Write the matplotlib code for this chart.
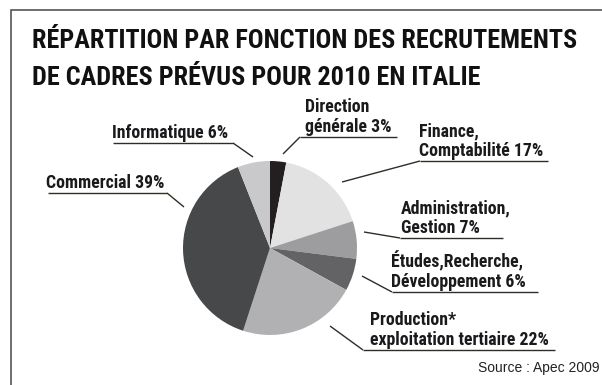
import matplotlib
matplotlib.use("Agg")
import matplotlib.pyplot as plt
from matplotlib import font_manager as fm

# Recruitment breakdown by function, 2010, Italy (share of planned hires, %)
categories = [
    "Direction\ngénérale",
    "Finance,\nComptabilité",
    "Administration,\nGestion",
    "Études,Recherche,\nDéveloppement",
    "Production*\nexploitation tertiaire",
    "Commercial",
    "Informatique",
]
values = [3, 17, 7, 6, 22, 39, 6]
colors = ["#231f20", "#e2e2e3", "#9d9d9f", "#636365", "#b1b1b3", "#47484a", "#c9c9cb"]

title = "RÉPARTITION PAR FONCTION DES RECRUTEMENTS\nDE CADRES PRÉVUS POUR 2010 EN ITALIE"
source = "Source : Apec 2009"

W, H = 602, 385


def pick_bold_narrow():
    """Return FontProperties for the narrowest bold sans face available."""
    wanted = ["Roboto Condensed", "Open Sans Condensed", "Liberation Sans Narrow",
              "Noto Sans Condensed", "DejaVu Sans Condensed"]
    entries = fm.fontManager.ttflist
    for name in wanted:
        for f in entries:
            if f.name == name and (f.weight in ("bold", 700) or
                                   str(f.weight).isdigit() and int(f.weight) >= 600):
                return fm.FontProperties(fname=f.fname)
    for f in entries:
        if (f.name in ("DejaVu Sans", "Roboto", "Open Sans", "Noto Sans")
                and "condensed" in str(f.stretch).lower()
                and (f.weight in ("bold", 700) or str(f.weight) == "700")):
            return fm.FontProperties(fname=f.fname)
    return fm.FontProperties(family="Roboto", weight="bold")


BOLD = pick_bold_narrow()
names = {f.name for f in fm.fontManager.ttflist}
REGULAR = "Liberation Sans" if "Liberation Sans" in names else "DejaVu Sans"

fig = plt.figure(figsize=(W / 100, H / 100), dpi=100)
ax = fig.add_axes([0, 0, 1, 1])


def Y(py):
    """Convert a top-down pixel row into axis y."""
    return H - py


# pie
center = (270, Y(248))
radius = 87
ax.pie(values, colors=colors, startangle=90, counterclock=False,
       center=center, radius=radius, frame=True,
       wedgeprops=dict(linewidth=0))
ax.set_xlim(0, W)
ax.set_ylim(0, H)
ax.set_aspect("equal")
ax.axis("off")

# frame (left and top rules)
ax.plot([10.5, 10.5, W], [Y(H), Y(9.5), Y(9.5)], color="#555555", lw=1.2,
        solid_capstyle="butt", solid_joinstyle="miter")

renderer = fig.canvas.get_renderer()


def fit_size(lines, target, base):
    """Font size at which the widest line spans `target` pixels."""
    widest = 0
    for s in lines:
        t = ax.text(0, 0, s, fontproperties=BOLD, fontsize=base)
        widest = max(widest, t.get_window_extent(renderer).width)
        t.remove()
    return base * target / widest


# title, two lines
title_lines = title.split("\n")
title_size = min(fit_size([title_lines[0]], 545, 18), 19.2)
for line, base_y in zip(title_lines, (48, 85)):
    ax.text(32, Y(base_y), line, fontproperties=BOLD, fontsize=title_size,
            color="#111111", ha="left", va="baseline")

# label placement: text left x, underline y, underline x-extent, leader start,
# widest text line span
layout = [
    (305, 137, 300, 397, (283, 154), 87),
    (419, 161, 420, 548, (342, 182), 129),
    (401, 238, 400, 503, (364, 232), 112),
    (391, 292, 392, 538, (362, 276), 138),
    (370, 350, 363, 555, (330, 326), 187),
    (46, 193, 48, 167, (184, 207), 118),
    (112, 143, 113, 233, (253, 157), 121),
]

texts = [f"{c} {v}%" for c, v in zip(categories, values)]
sizes = [fit_size(t.split("\n"), L[5], 12) for t, L in zip(texts, layout)]
label_size = min(sum(sizes) / len(sizes), 12.8)

line_color = "#2e2e26"
for txt, (tx, uy, ux0, ux1, (lx, ly), _) in zip(texts, layout):
    lines = txt.split("\n")
    for k, line in enumerate(reversed(lines)):
        ax.text(tx, Y(uy - 5 - 20 * k), line, fontproperties=BOLD,
                fontsize=label_size, color="#1a1a1a", ha="left", va="baseline")
    # join point on the underline nearest to the pie
    jx = ux0 if abs(lx - ux0) < abs(lx - ux1) else ux1
    ax.plot([ux0, ux1], [Y(uy), Y(uy)], color=line_color, lw=1.0,
            solid_capstyle="butt")
    ax.plot([lx, jx], [Y(ly), Y(uy)], color=line_color, lw=1.0,
            solid_capstyle="butt")

# source note
ax.text(600, Y(372), source, fontfamily=REGULAR, fontsize=10, color="#222222",
        ha="right", va="baseline")

fig.savefig("out.png", dpi=100)
